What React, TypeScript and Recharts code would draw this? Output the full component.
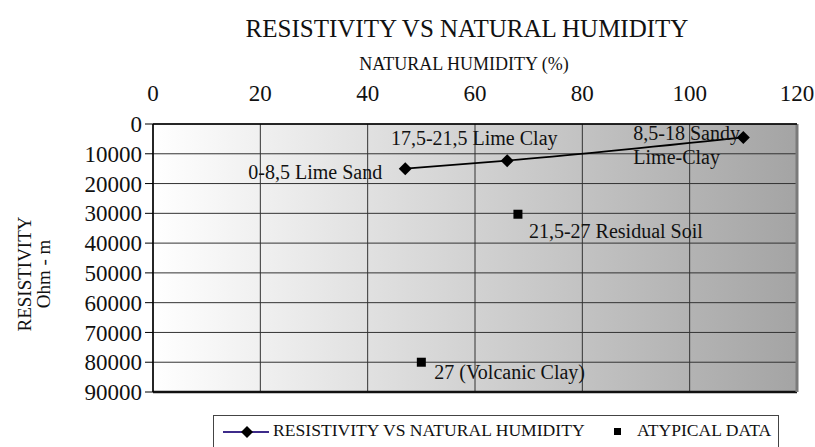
import {
  ScatterChart,
  Scatter,
  XAxis,
  YAxis,
  CartesianGrid,
  Legend,
  Label,
  ReferenceLine,
} from "recharts";

const humidityTicks = [0, 20, 40, 60, 80, 100, 120];
const resistivityTicks = [0, 10000, 20000, 30000, 40000, 50000, 60000, 70000, 80000, 90000];

// main series (diamonds, smoothed line)
const trendHumidity = [47, 66, 110];
const trendResistivity = [15000, 12300, 4500];
const trendLabels = ["0-8,5 Lime Sand", "17,5-21,5 Lime Clay", "8,5-18 Sandy\nLime-Clay"];

// atypical points (squares)
const atypicalHumidity = [68, 50];
const atypicalResistivity = [30300, 80000];
const atypicalLabels = ["21,5-27 Residual Soil", "27 (Volcanic Clay)"];

const trendData = trendHumidity.map((x, i) => ({ x, y: trendResistivity[i], label: trendLabels[i] }));
const atypicalData = atypicalHumidity.map((x, i) => ({ x, y: atypicalResistivity[i], label: atypicalLabels[i] }));

// where each annotation sits relative to its point
const labelOffsets: Record<string, { dx: number; dy: number; anchor: "start" | "middle" | "end" }> = {
  "0-8,5 Lime Sand": { dx: -23, dy: 10, anchor: "end" },
  "17,5-21,5 Lime Clay": { dx: -33, dy: -16, anchor: "middle" },
  "8,5-18 Sandy\nLime-Clay": { dx: -110, dy: 3, anchor: "start" },
  "21,5-27 Residual Soil": { dx: 11, dy: 24, anchor: "start" },
  "27 (Volcanic Clay)": { dx: 13, dy: 17, anchor: "start" },
};

const FONT = '"Liberation Serif", "Times New Roman", serif';

function Annotation({ cx, cy, text }: { cx: number; cy: number; text: string }) {
  const o = labelOffsets[text];
  if (!o) return null;
  const lines = text.split("\n");
  return (
    <text x={cx + o.dx} y={cy + o.dy} textAnchor={o.anchor} fontSize={20} fontFamily={FONT} fill="#111">
      {lines.map((l, i) => (
        <tspan key={i} x={cx + o.dx} dy={i === 0 ? 0 : 24}>
          {l}
        </tspan>
      ))}
    </text>
  );
}

function DiamondShape(props: any) {
  const { cx, cy, payload } = props;
  const r = 6.5;
  return (
    <g>
      <path d={`M${cx},${cy - r}L${cx + r},${cy}L${cx},${cy + r}L${cx - r},${cy}Z`} fill="#000" />
      <Annotation cx={cx} cy={cy} text={payload.label} />
    </g>
  );
}

function SquareShape(props: any) {
  const { cx, cy, payload } = props;
  const s = 4.5;
  return (
    <g>
      <rect x={cx - s} y={cy - s} width={s * 2} height={s * 2} fill="#000" />
      <Annotation cx={cx} cy={cy} text={payload.label} />
    </g>
  );
}

function ChartLegend() {
  return (
    <div style={{ width: 797, height: 55, position: "relative", fontFamily: FONT }}>
      <div
        style={{
          position: "absolute",
          left: 213,
          top: 23,
          width: 566,
          height: 36,
          border: "1px solid #444",
          boxSizing: "border-box",
          fontSize: 17.6,
          color: "#111",
        }}
      >
        <svg width={60} height={20} style={{ position: "absolute", left: 8, top: 6 }}>
          <line x1={1} y1={10} x2={47} y2={10} stroke="#3d2b8a" strokeWidth={2} />
          <path d="M25,4L31,10L25,16L19,10Z" fill="#000" />
        </svg>
        <span style={{ position: "absolute", left: 59, top: 4, whiteSpace: "nowrap" }}>
          RESISTIVITY VS NATURAL HUMIDITY
        </span>
        <div style={{ position: "absolute", left: 400, top: 12, width: 7, height: 7, background: "#000" }} />
        <span style={{ position: "absolute", left: 423, top: 4, whiteSpace: "nowrap" }}>ATYPICAL DATA</span>
      </div>
    </div>
  );
}

export default function App() {
  return (
    <div style={{ position: "absolute", left: 0, top: 0, width: 815, height: 447, background: "#fff" }}>
      <ScatterChart width={815} height={447} margin={{ top: 0, right: 18, bottom: 0, left: 0 }}>
        <defs>
          <linearGradient id="plotBg" x1="0" y1="0" x2="1" y2="0">
            <stop offset="0%" stopColor="#ffffff" />
            <stop offset="100%" stopColor="#a4a4a4" />
          </linearGradient>
        </defs>
        <CartesianGrid
          fill="url(#plotBg)"
          stroke="#333"
          strokeWidth={1}
          horizontalValues={resistivityTicks}
          verticalValues={humidityTicks}
        />
        <XAxis
          type="number"
          dataKey="x"
          orientation="top"
          height={124}
          domain={[0, 120]}
          ticks={humidityTicks}
          tickLine={false}
          tickSize={0}
          tickMargin={23}
          axisLine={{ stroke: "#000", strokeWidth: 1.5 }}
          tick={{ fontSize: 23, fontFamily: FONT, fill: "#111" }}
          interval={0}
        >
          <Label
            content={({ viewBox }: any) => {
              const cx = viewBox.x + viewBox.width / 2;
              return (
                <g fontFamily={FONT} fill="#111" textAnchor="middle">
                  <text x={cx - 8} y={37} fontSize={25}>
                    RESISTIVITY VS NATURAL HUMIDITY
                  </text>
                  <text x={cx - 11} y={70} fontSize={18}>
                    NATURAL HUMIDITY (%)
                  </text>
                </g>
              );
            }}
          />
        </XAxis>
        <YAxis
          type="number"
          dataKey="y"
          reversed
          width={153}
          domain={[0, 90000]}
          ticks={resistivityTicks}
          interval={0}
          tickSize={8}
          tickMargin={3}
          tickLine={{ stroke: "#000" }}
          axisLine={{ stroke: "#000", strokeWidth: 1.5 }}
          tick={{ fontSize: 23, fontFamily: FONT, fill: "#111" }}
        >
          <Label
            content={() => (
              <g fontFamily={FONT} fill="#111" textAnchor="middle" fontSize={19}>
                <text x={31} y={274} transform="rotate(-90, 31, 274)">
                  RESISTIVITY
                </text>
                <text x={50} y={274} transform="rotate(-90, 50, 274)">
                  Ohm - m
                </text>
              </g>
            )}
          />
        </YAxis>
        <ReferenceLine y={90000} stroke="#111" strokeWidth={2.5} />
        <ReferenceLine x={120} stroke="#7a7a7a" strokeWidth={3} />
        <Legend verticalAlign="bottom" content={() => <ChartLegend />} />
        <Scatter
          name="RESISTIVITY VS NATURAL HUMIDITY"
          data={trendData}
          line={{ stroke: "#000", strokeWidth: 1.6 }}
          lineJointType="monotoneX"
          shape={DiamondShape}
          isAnimationActive={false}
        />
        <Scatter name="ATYPICAL DATA" data={atypicalData} shape={SquareShape} isAnimationActive={false} />
      </ScatterChart>
    </div>
  );
}
